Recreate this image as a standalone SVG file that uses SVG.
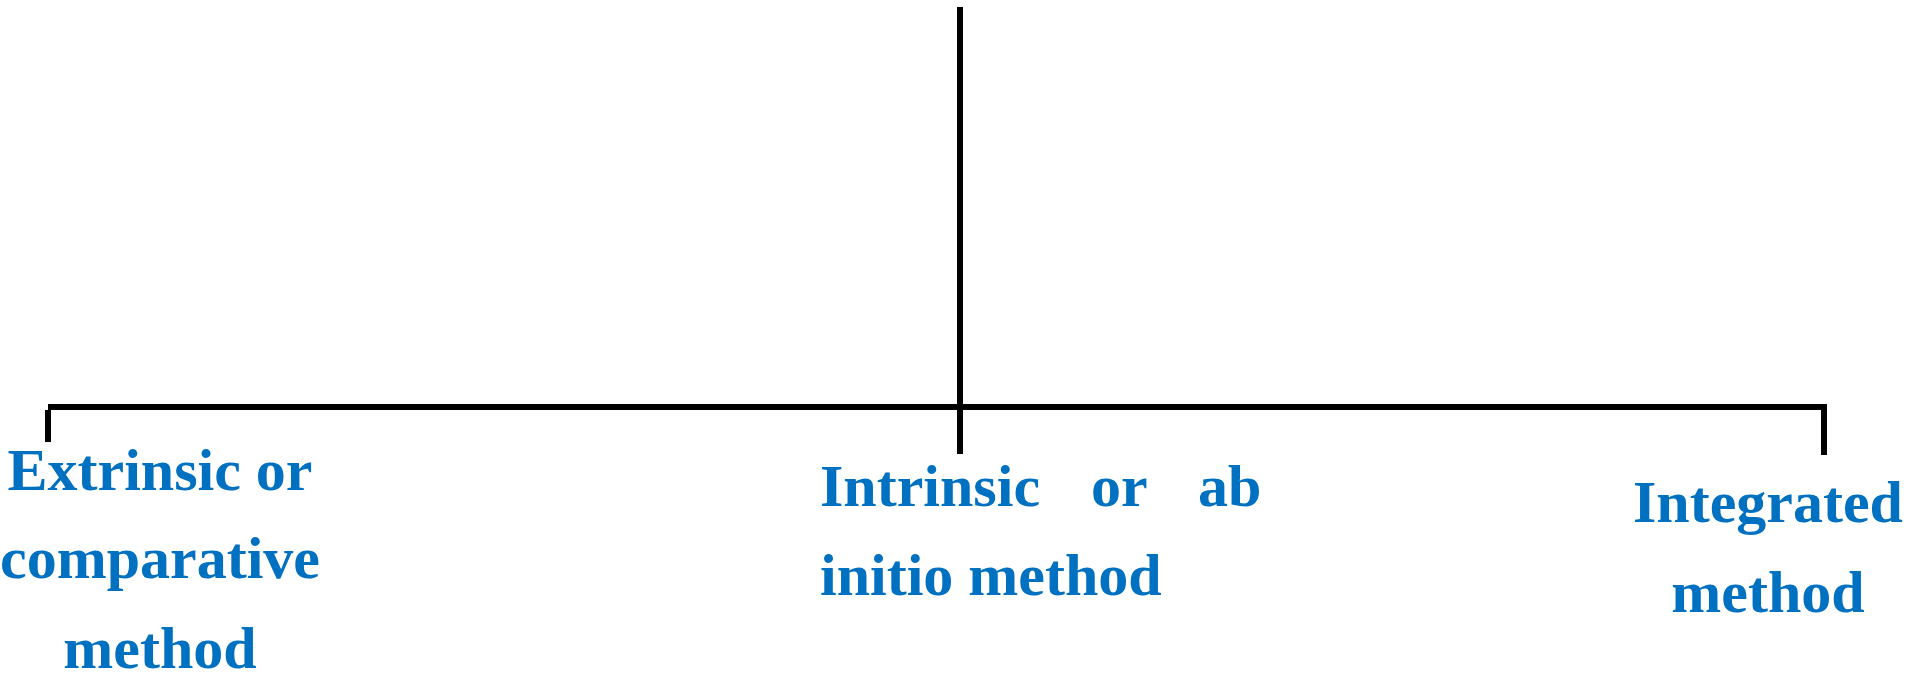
<svg xmlns="http://www.w3.org/2000/svg" width="1915" height="676" viewBox="0 0 1915 676">
<style>
.lbl{font-family:"Liberation Serif","Times New Roman",serif;font-weight:bold;font-size:60px;fill:#0070C0}
.ln{stroke:#000;stroke-width:6;fill:none}
</style>
<rect width="1915" height="676" fill="#fff"/>
<g id="connectors">
<line class="ln" x1="960" y1="7" x2="960" y2="454"/>
<line class="ln" x1="48" y1="407" x2="1827" y2="407"/>
<line class="ln" x1="48" y1="410" x2="48" y2="442"/>
<line class="ln" x1="1824" y1="407" x2="1824" y2="455"/>
</g>
<g id="node-extrinsic">
<text class="lbl" text-anchor="middle" x="160" y="490">Extrinsic or</text>
<text class="lbl" text-anchor="middle" x="160" y="578">comparative</text>
<text class="lbl" text-anchor="middle" x="160" y="668">method</text>
</g>
<g id="node-intrinsic">
<text class="lbl" x="820" y="506">Intrinsic</text>
<text class="lbl" x="1091" y="506">or</text>
<text class="lbl" x="1198" y="506">ab</text>
<text class="lbl" x="820" y="595">initio method</text>
</g>
<g id="node-integrated">
<text class="lbl" text-anchor="middle" x="1768" y="522">Integrated</text>
<text class="lbl" text-anchor="middle" x="1768" y="612">method</text>
</g>
</svg>
